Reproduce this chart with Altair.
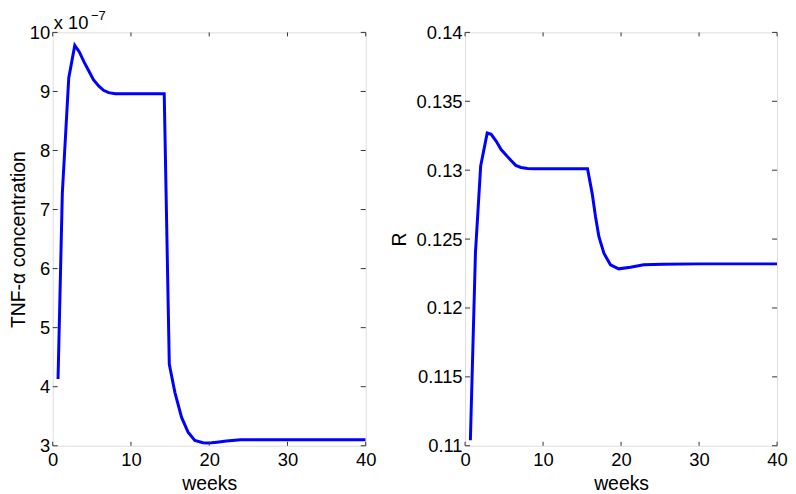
import altair as alt
import pandas as pd

# ---- data ----
weeks_tnf = [0.68, 1.23, 2.05, 2.82, 3.4, 4.0, 4.6, 5.2, 5.9, 6.5, 7.15, 8.0, 9.0,
             10.0, 12.0, 14.25, 14.9, 15.62, 16.47, 17.3, 18.16, 19.2, 19.7, 20.3,
             21.0, 22.2, 24.0, 26.0, 30.0, 40.0]
tnf_e7 = [4.13, 7.28, 9.23, 9.78, 9.67, 9.5, 9.35, 9.2, 9.09, 9.02, 8.98, 8.96, 8.96,
          8.96, 8.96, 8.96, 4.38, 3.9, 3.48, 3.23, 3.09, 3.05, 3.045, 3.05,
          3.06, 3.08, 3.1, 3.1, 3.1, 3.1]

weeks_r = [0.68, 1.33, 2.0, 2.84, 3.35, 4.0, 4.62, 5.25, 5.9, 6.5, 7.17, 8.0, 8.88,
           10.0, 12.0, 15.7, 16.3, 16.73, 17.16, 17.8, 18.64, 19.7, 21.2, 22.9,
           25.4, 30.0, 40.0]
r_vals = [0.1104, 0.1240, 0.1303, 0.1327, 0.1326, 0.1321, 0.1315, 0.1311, 0.1307,
          0.13035, 0.1302, 0.13012, 0.1301, 0.1301, 0.1301, 0.1301, 0.1283, 0.12661,
          0.12517, 0.12397, 0.12313, 0.12284, 0.12296, 0.12313, 0.12318, 0.1232, 0.1232]

x_ticks = [0, 10, 20, 30, 40]
tnf_ticks_e7 = [3, 4, 5, 6, 7, 8, 9, 10]
r_ticks = [0.11, 0.115, 0.12, 0.125, 0.13, 0.135, 0.14]

FONT = "Liberation Sans"
LINE = "#0000ff"
BOX = "#333333"
H = 416
W1, W2 = 315, 314
LABEL_FS = 18.5
TITLE_FS = 19.5


def make_panel(df, ydomain, yticks, ytitle, width, y_extent, y_title_pad,
               label_expr=None, fmt=None, extra=None):
    xscale = alt.Scale(domain=[0, 40], nice=False, zero=False)
    yscale = alt.Scale(domain=ydomain, nice=False, zero=False)
    xaxis = alt.Axis(values=x_ticks, title="weeks", grid=False, ticks=False, tickSize=0,
                     domain=False, labelFont=FONT, labelFontSize=LABEL_FS,
                     labelColor="black", labelPadding=5, labelFlush=False,
                     labelOverlap=False, titleFont=FONT, titleFontSize=TITLE_FS,
                     titleFontWeight="normal", titleColor="black",
                     minExtent=24, maxExtent=24, titlePadding=5, format="d")
    yaxis_kw = dict(values=yticks, title=ytitle, grid=False, ticks=False, tickSize=0,
                    domain=False, labelFont=FONT, labelFontSize=LABEL_FS,
                    labelColor="black", labelPadding=3, labelFlush=False,
                    labelOverlap=False, titleFont=FONT, titleFontSize=TITLE_FS,
                    titleFontWeight="normal", titleColor="black",
                    minExtent=y_extent, maxExtent=y_extent, titlePadding=y_title_pad)
    if label_expr:
        yaxis_kw["labelExpr"] = label_expr
    if fmt:
        yaxis_kw["format"] = fmt
    yaxis = alt.Axis(**yaxis_kw)

    def X():
        return alt.X("week:Q", scale=xscale, axis=xaxis, title="weeks")

    def Y():
        return alt.Y("val:Q", scale=yscale, axis=yaxis, title=ytitle)

    line = alt.Chart(df).mark_line(color=LINE, strokeWidth=3, clip=True).encode(
        x=X(), y=Y())
    xt = pd.DataFrame({"week": x_ticks})
    yt = pd.DataFrame({"val": yticks})
    tb = alt.Chart(xt).mark_rule(color=BOX, strokeWidth=1).encode(
        x=X(), y=alt.value(H), y2=alt.value(H - 4))
    tt = alt.Chart(xt).mark_rule(color=BOX, strokeWidth=1).encode(
        x=X(), y=alt.value(0), y2=alt.value(4))
    tl = alt.Chart(yt).mark_rule(color=BOX, strokeWidth=1).encode(
        y=Y(), x=alt.value(0), x2=alt.value(5))
    tr = alt.Chart(yt).mark_rule(color=BOX, strokeWidth=1).encode(
        y=Y(), x=alt.value(width - 5), x2=alt.value(width))
    layers = [line, tb, tt, tl, tr]
    if extra:
        layers += extra
    return alt.layer(*layers).properties(width=width, height=H)


df_tnf = pd.DataFrame({"week": weeks_tnf, "val": [v * 1e-7 for v in tnf_e7]})
df_r = pd.DataFrame({"week": weeks_r, "val": r_vals})

mult = alt.Chart(pd.DataFrame({"t": ["x 10"]})).mark_text(
    font=FONT, fontSize=LABEL_FS, align="left", baseline="alphabetic", color="black"
).encode(text="t:N", x=alt.value(1), y=alt.value(-3.5))
expo = alt.Chart(pd.DataFrame({"t": ["\u22127"]})).mark_text(
    font=FONT, fontSize=13, align="left", baseline="alphabetic", color="black"
).encode(text="t:N", x=alt.value(38.5), y=alt.value(-12.5))

left = make_panel(df_tnf, [3e-7, 10e-7], [v * 1e-7 for v in tnf_ticks_e7],
                  "TNF-\u03b1 concentration", W1, 24, 0.5,
                  label_expr="format(round(datum.value*1e7), 'd')", extra=[mult, expo])
right = make_panel(df_r, [0.11, 0.14], r_ticks, "R", W2, 52, 4, fmt=".3~f")

chart = alt.hconcat(left, right, spacing=100, bounds="flush").properties(
    padding=0
).configure_view(stroke=BOX, strokeWidth=1).configure(background="white")

chart.save("out.html", embed_options={"renderer": "svg", "actions": False})
